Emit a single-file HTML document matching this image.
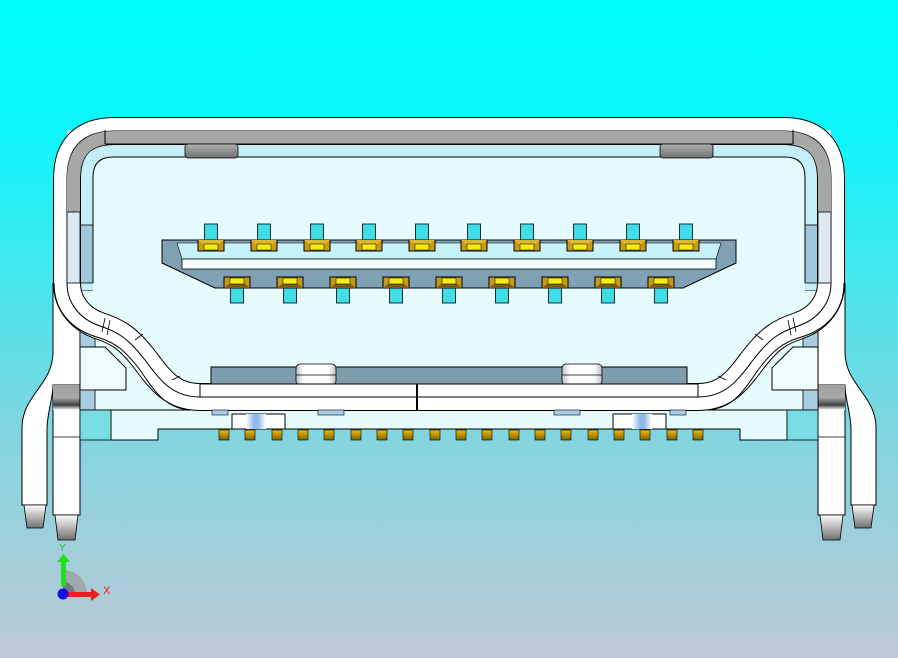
<!DOCTYPE html>
<html><head><meta charset="utf-8"><style>
html,body{margin:0;padding:0;width:898px;height:658px;overflow:hidden}
svg{display:block}
text{font-family:"Liberation Sans",sans-serif}
</style></head><body>
<svg width="898" height="658" viewBox="0 0 898 658" xmlns="http://www.w3.org/2000/svg">
<defs>
<linearGradient id="bg" x1="0" y1="0" x2="0" y2="1">
<stop offset="0" stop-color="#00ffff"/><stop offset="0.2" stop-color="#0cf6fb"/>
<stop offset="0.65" stop-color="#80d6e0"/><stop offset="1" stop-color="#bec8d6"/></linearGradient>
<linearGradient id="tip" x1="0" y1="0" x2="0" y2="1"><stop offset="0" stop-color="#ffffff"/><stop offset="1" stop-color="#707070"/></linearGradient>
<linearGradient id="legtop" x1="0" y1="0" x2="0" y2="1"><stop offset="0" stop-color="#a0a0a0"/><stop offset="0.5" stop-color="#a8a8a8"/><stop offset="0.8" stop-color="#404040"/><stop offset="1" stop-color="#ffffff"/></linearGradient>
<linearGradient id="tab" x1="0" y1="0" x2="0" y2="1"><stop offset="0" stop-color="#b0b0b0"/><stop offset="1" stop-color="#707070"/></linearGradient>
<linearGradient id="sl" x1="0" y1="0" x2="1" y2="0"><stop offset="0" stop-color="#b8c0c8"/><stop offset="0.2" stop-color="#ffffff"/><stop offset="0.8" stop-color="#ffffff"/><stop offset="1" stop-color="#b8c0c8"/></linearGradient>
<linearGradient id="gold" x1="0" y1="0" x2="0" y2="1"><stop offset="0" stop-color="#f0c000"/><stop offset="1" stop-color="#806000"/></linearGradient>
<linearGradient id="bl" x1="0" y1="0" x2="1" y2="0"><stop offset="0" stop-color="#ffffff"/><stop offset="0.4" stop-color="#90b8e8"/><stop offset="0.6" stop-color="#90b8e8"/><stop offset="1" stop-color="#ffffff"/></linearGradient>
<g id="half">
 <!-- legs -->
 <path d="M53,283 L53,352 C53,385 22,395 22,428 L22,505 L47,505 L47,430 C47,412 53,400 53,385 L80,385 L80,283" fill="#fff" stroke="#000"/>
 <path d="M24,505 L46,505 L43,528 L27,528 Z" fill="url(#tip)" stroke="#000" stroke-width="0.8"/>
 <rect x="53" y="385" width="27" height="130" fill="#fff" stroke="#000"/>
 <rect x="53" y="385" width="27" height="25" fill="url(#legtop)"/>
 <line x1="53" y1="437" x2="80" y2="437" stroke="#000" stroke-width="0.8"/>
 <path d="M55,515 L78,515 L75,540 L58,540 Z" fill="url(#tip)" stroke="#000" stroke-width="0.8"/>
 <!-- lower body -->
 <path d="M449,429 L158,429 L158,440 L111,440 L111,410 L449,410" fill="#e6fbfc" stroke="#000"/>
 <path d="M449,410 L80,410 L80,290 L449,290" fill="#e6fbfc" stroke="#000"/>
 <rect x="80" y="328" width="15" height="19" fill="#a8cce0" stroke="#000" stroke-width="0.8"/>
 <path d="M80,347 L105,347 L126,368 L126,390 L80,390 Z" fill="#eefcfd" stroke="#000"/>
 <rect x="80" y="390" width="15" height="20" fill="#a8cce0" stroke="#000" stroke-width="0.8"/>
 <rect x="80" y="410" width="31" height="30" fill="#78dde2" stroke="#000" stroke-width="0.8"/>
 <!-- interior -->
 <rect x="67" y="130" width="382" height="160" fill="#c4eef8"/>
 <rect x="80" y="225" width="13" height="58" fill="#a0c8dc" stroke="#000" stroke-width="0.8"/>
 <path d="M449,157 L113,157 Q93,157 93,177 L93,303 L449,303 Z" fill="#e6fbfc"/>
 <path d="M449,157 L113,157 Q93,157 93,177 L93,283" fill="none" stroke="#000"/>
 <!-- shell band -->
 <path d="M449,131 L115,131 Q67,131 67,179 L67,283 C67,305 82,320 100,326 C118,332 128,338 145,360 C160,380 172,397 200,397 L449,397" fill="none" stroke="#000" stroke-width="28"/>
 <path d="M449,131 L115,131 Q67,131 67,179 L67,283 C67,305 82,320 100,326 C118,332 128,338 145,360 C160,380 172,397 200,397 L449,397" fill="none" stroke="#fff" stroke-width="26"/>
 <path d="M449,131 L115,131 Q67,131 67,179 L67,283 C67,305 82,320 100,326 C118,332 128,338 145,360 C160,380 172,397 200,397 L449,397" fill="none" stroke="#000" stroke-width="1"/>
 <path d="M449,137.5 L115,137.5 Q73.5,137.5 73.5,179 L73.5,212" fill="none" stroke="#a6a8a6" stroke-width="13"/>
 <rect x="67" y="212" width="13" height="71" fill="#dde8f0" stroke="#000" stroke-width="0.8"/>
 <line x1="105" y1="130" x2="105" y2="144" stroke="#000"/>
 <line x1="105" y1="144" x2="449" y2="144" stroke="#000"/>
 <path d="M54,283 C54,310 70,330 100,338 C115,343 125,350 140,370 C155,392 165,408 190,410" fill="none" stroke="#000"/>
 <line x1="105" y1="318" x2="102" y2="332" stroke="#000" stroke-width="0.8"/>
 <line x1="110" y1="320" x2="107" y2="335" stroke="#000" stroke-width="0.8"/>
 <line x1="135" y1="340" x2="143" y2="334" stroke="#000" stroke-width="0.8"/>
 <line x1="172" y1="380" x2="180" y2="376" stroke="#000" stroke-width="0.8"/>
 <rect x="185" y="144" width="53" height="14" rx="3" fill="url(#tab)" stroke="#000" stroke-width="0.8"/>
 <!-- bottom blocks -->
 <path d="M449,367 L211,367 L211,384 L449,384" fill="#7e9eb0" stroke="#000"/>
 <rect x="296" y="364" width="40" height="21" rx="4" fill="url(#sl)" stroke="#000" stroke-width="0.8"/>
 <line x1="296" y1="375" x2="336" y2="375" stroke="#000" stroke-width="0.8"/>
 <path d="M449,384 L200,384 L200,397 L449,397" fill="#fff" stroke="#000"/>
 <rect x="212" y="410" width="16" height="5" fill="#a8cce8" stroke="#000" stroke-width="0.6"/>
 <rect x="318" y="410" width="26" height="5" fill="#a8cce8" stroke="#000" stroke-width="0.6"/>
 <rect x="232" y="414" width="53" height="15" fill="#fff" stroke="#000"/>
 <rect x="246" y="414" width="20" height="15" fill="url(#bl)"/>
 <!-- tongue -->
 <path d="M449,240 L162,240 L162,263 L215,288 L449,288" fill="#80a0b4" stroke="#000"/>
 <path d="M449,243 L177,243 L182,259 L449,259" fill="#c6f2fb" stroke="#000" stroke-width="0.6"/>
 <path d="M449,259 L182,259 L182,269 L449,269" fill="#f4feff" stroke="#000" stroke-width="0.8"/>
</g>
<g id="pinT">
 <rect x="-6.5" y="224" width="13" height="17" fill="#40dce8" stroke="#000" stroke-width="0.8"/>
 <rect x="-13" y="240" width="26" height="11" fill="#c89a1c" stroke="#000"/>
 <path d="M-13,240 L-8,244 L8,244 L13,240 Z" fill="#e0b830"/>
 <rect x="-7" y="244" width="14" height="6" fill="#f4ec10" stroke="#000" stroke-width="0.5"/>
</g>
<g id="pinB">
 <rect x="-6.5" y="287" width="13" height="16" fill="#40dce8" stroke="#000" stroke-width="0.8"/>
 <rect x="-13" y="277" width="26" height="11" fill="#c89a1c" stroke="#000"/>
 <path d="M-13,288 L-8,284 L8,284 L13,288 Z" fill="#7c5c10"/>
 <rect x="-7" y="278" width="14" height="6" fill="#f4ec10" stroke="#000" stroke-width="0.5"/>
</g>
<rect id="c" x="0" y="430" width="10" height="10" fill="url(#gold)" stroke="#000" stroke-width="0.6"/>
</defs>
<rect width="898" height="658" fill="url(#bg)"/>
<use href="#half"/>
<use href="#half" transform="translate(898,0) scale(-1,1)"/>
<line x1="417" y1="384" x2="417" y2="410" stroke="#000" stroke-width="2"/>
<use href="#pinT" x="211"/><use href="#pinT" x="264"/><use href="#pinT" x="317"/><use href="#pinT" x="369"/><use href="#pinT" x="422"/>
<use href="#pinT" x="474"/><use href="#pinT" x="527"/><use href="#pinT" x="580"/><use href="#pinT" x="633"/><use href="#pinT" x="686"/>
<use href="#pinB" x="237"/><use href="#pinB" x="290"/><use href="#pinB" x="343"/><use href="#pinB" x="396"/><use href="#pinB" x="449"/>
<use href="#pinB" x="502"/><use href="#pinB" x="555"/><use href="#pinB" x="608"/><use href="#pinB" x="661"/>
<use href="#c" x="219"/><use href="#c" x="245"/><use href="#c" x="272"/><use href="#c" x="298"/><use href="#c" x="324"/>
<use href="#c" x="351"/><use href="#c" x="377"/><use href="#c" x="403"/><use href="#c" x="430"/><use href="#c" x="456"/>
<use href="#c" x="482"/><use href="#c" x="509"/><use href="#c" x="535"/><use href="#c" x="561"/><use href="#c" x="588"/>
<use href="#c" x="614"/><use href="#c" x="640"/><use href="#c" x="667"/><use href="#c" x="693"/>
<!-- axis triad -->
<path d="M63,594 L63,570 A24,24 0 0 1 87,594 Z" fill="#a0a8ac"/>
<path d="M63,594 L63,582 A12,12 0 0 1 75,594 Z" fill="#707880"/>
<rect x="61" y="560" width="5" height="26" fill="#20e020"/>
<path d="M57,562 L63.5,554 L70,562 Z" fill="#20e020"/>
<rect x="66" y="592" width="26" height="5" fill="#e82020"/>
<path d="M91,588 L100,594.5 L91,601 Z" fill="#e82020"/>
<circle cx="63" cy="594" r="5.5" fill="#1010e0"/>
<text x="59" y="551" font-size="10" fill="#20c020">Y</text>
<text x="103" y="594" font-size="11" fill="#e02020">X</text>
</svg>
</body></html>
